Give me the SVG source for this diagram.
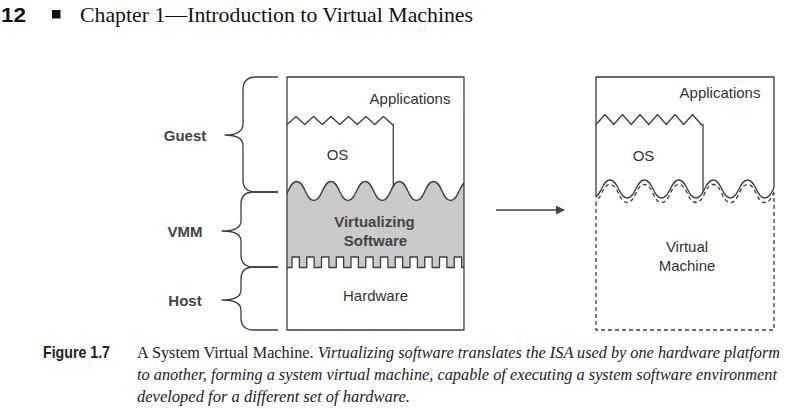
<svg xmlns="http://www.w3.org/2000/svg" width="808" height="409" viewBox="0 0 808 409">
<style>
.ln{fill:none;stroke:#3c3c3c;stroke-width:1.3;stroke-linejoin:round}
.ds{fill:none;stroke:#3c3c3c;stroke-width:1.3;stroke-dasharray:4,3}
.lbl{font-family:"Liberation Sans",Arial,sans-serif;font-size:15px;fill:#333;text-anchor:middle}
.bl{font-family:"Liberation Sans",Arial,sans-serif;font-size:15px;font-weight:bold;fill:#444;text-anchor:middle}
.cap{font-family:"Liberation Serif","Times New Roman",serif;font-size:17px;fill:#222}
.it{font-style:italic}
</style>
<defs>
<clipPath id="clipL"><rect x="287" y="77" width="177" height="253"/></clipPath>
<clipPath id="clipR"><rect x="596" y="77" width="178" height="253"/></clipPath>
<path id="waveL" d="M279.6,200.5 c8.55,0 8.55,-19 17.1,-19 s8.55,19 17.1,19 s8.55,-19 17.1,-19 s8.55,19 17.1,19 s8.55,-19 17.1,-19 s8.55,19 17.1,19 s8.55,-19 17.1,-19 s8.55,19 17.1,19 s8.55,-19 17.1,-19 s8.55,19 17.1,19 s8.55,-19 17.1,-19 s8.55,19 17.1,19"/>
<path id="waveR" d="M592.8,198 c8.6,0 8.6,-18 17.2,-18 s8.6,18 17.2,18 s8.6,-18 17.2,-18 s8.6,18 17.2,18 s8.6,-18 17.2,-18 s8.6,18 17.2,18 s8.6,-18 17.2,-18 s8.6,18 17.2,18 s8.6,-18 17.2,-18 s8.6,18 17.2,18 s8.6,-18 17.2,-18 s8.6,18 17.2,18"/>
<marker id="arr" viewBox="0 0 10 10" refX="9" refY="5" markerWidth="9" markerHeight="9" markerUnits="userSpaceOnUse" orient="auto"><path d="M0,0 L10,5 L0,10 z" fill="#444"/></marker>
</defs>

<g id="header">
<text x="1" y="21.5" font-family="Liberation Sans,Arial,sans-serif" font-weight="bold" font-size="21" fill="#111" textLength="25" lengthAdjust="spacingAndGlyphs">12</text>
<rect x="52" y="10" width="8.5" height="8.5" fill="#111"/>
<text x="80" y="21.5" font-family="Liberation Serif,Times New Roman,serif" font-size="21" fill="#111" textLength="393" lengthAdjust="spacingAndGlyphs">Chapter 1—Introduction to Virtual Machines</text>
</g>

<g id="braces">
<path class="ln" d="M278,77 H256 Q243,77 243,90 V124 Q243,135 225,135 Q243,135 243,146 V180 Q243,192 256,192 H278"/>
<path class="ln" d="M278,192 H254 Q241,192 241,204 V221 Q241,231 222,231 Q241,231 241,241 V255 Q241,267 254,267 H278"/>
<path class="ln" d="M278,267 H254 Q241,267 241,279 V290 Q241,300 222,300 Q241,300 241,310 V318 Q241,330 254,330 H278"/>
<text class="bl" x="185" y="140.5">Guest</text>
<text class="bl" x="185" y="237">VMM</text>
<text class="bl" x="185" y="306">Host</text>
</g>

<g id="host-system">
<g clip-path="url(#clipL)">
<path d="M279.6,200.5 c8.55,0 8.55,-19 17.1,-19 s8.55,19 17.1,19 s8.55,-19 17.1,-19 s8.55,19 17.1,19 s8.55,-19 17.1,-19 s8.55,19 17.1,19 s8.55,-19 17.1,-19 s8.55,19 17.1,19 s8.55,-19 17.1,-19 s8.55,19 17.1,19 s8.55,-19 17.1,-19 s8.55,19 17.1,19 V270 H279.6 Z" fill="#cacaca"/>
<path d="M287,267.5 H292 v-10.5 h7.4 v10.5 h7.35 v-10.5 h7.4 v10.5 h7.35 v-10.5 h7.4 v10.5 h7.35 v-10.5 h7.4 v10.5 h7.35 v-10.5 h7.4 v10.5 h7.35 v-10.5 h7.4 v10.5 h7.35 v-10.5 h7.4 v10.5 h7.35 v-10.5 h7.4 v10.5 h7.35 v-10.5 h7.4 v10.5 h7.35 v-10.5 h7.4 v10.5 h7.35 v-10.5 h7.4 v10.5 h7.35 v-10.5 h7.4 v10.5 H464 V330 H287 Z" fill="#fff"/>
<path class="ln" d="M287,267.5 H292 v-10.5 h7.4 v10.5 h7.35 v-10.5 h7.4 v10.5 h7.35 v-10.5 h7.4 v10.5 h7.35 v-10.5 h7.4 v10.5 h7.35 v-10.5 h7.4 v10.5 h7.35 v-10.5 h7.4 v10.5 h7.35 v-10.5 h7.4 v10.5 h7.35 v-10.5 h7.4 v10.5 h7.35 v-10.5 h7.4 v10.5 h7.35 v-10.5 h7.4 v10.5 h7.35 v-10.5 h7.4 v10.5 h7.35 v-10.5 h7.4 v10.5 H464"/>
<use href="#waveL" class="ln"/>
</g>
<path class="ln" d="M287,124.5 L296,116.5 L304.75,124.5 L313.5,116.5 L322.25,124.5 L331,116.5 L339.75,124.5 L348.5,116.5 L357.25,124.5 L366,116.5 L374.75,124.5 L383.5,116.5 L392.25,124.5 H393.3 V186"/>
<rect class="ln" x="287" y="77" width="177" height="253"/>
<text class="lbl" x="410" y="104">Applications</text>
<text class="lbl" x="337.5" y="159.5">OS</text>
<text class="bl" x="374.5" y="227">Virtualizing</text>
<text class="bl" x="375.5" y="246">Software</text>
<text class="lbl" x="375.5" y="301">Hardware</text>
</g>

<g id="virtual-machine">
<g clip-path="url(#clipR)">
<use href="#waveR" class="ln"/>
<use href="#waveR" class="ds" transform="translate(0,4.5)"/>
</g>
<path class="ln" d="M596,124.5 L605,114.5 L613.75,124.5 L622.5,114.5 L631.25,124.5 L640,114.5 L648.75,124.5 L657.5,114.5 L666.25,124.5 L675,114.5 L683.75,124.5 L692.5,114.5 L701.25,124.5 H703 V191"/>
<path class="ln" d="M596,197 V77 H774 V188"/>
<path class="ds" d="M596,202 V330 H774 V193"/>
<text class="lbl" x="720" y="98">Applications</text>
<text class="lbl" x="643.5" y="160.5">OS</text>
<text class="lbl" x="687" y="252">Virtual</text>
<text class="lbl" x="687" y="270.5">Machine</text>
</g>

<g id="connectors">
<line x1="496" y1="210" x2="564" y2="210" stroke="#444" stroke-width="1.5" marker-end="url(#arr)"/>
</g>

<g id="caption">
<text x="43" y="358" font-family="Liberation Sans,Arial,sans-serif" font-weight="bold" font-size="17" fill="#222" textLength="67" lengthAdjust="spacingAndGlyphs">Figure 1.7</text>
<text class="cap" x="137" y="358" textLength="643" lengthAdjust="spacingAndGlyphs">A System Virtual Machine. <tspan class="it">Virtualizing software translates the ISA used by one hardware platform</tspan></text>
<text class="cap it" x="137" y="380" textLength="640" lengthAdjust="spacingAndGlyphs">to another, forming a system virtual machine, capable of executing a system software environment</text>
<text class="cap it" x="137" y="402" textLength="273" lengthAdjust="spacingAndGlyphs">developed for a different set of hardware.</text>
</g>
</svg>
